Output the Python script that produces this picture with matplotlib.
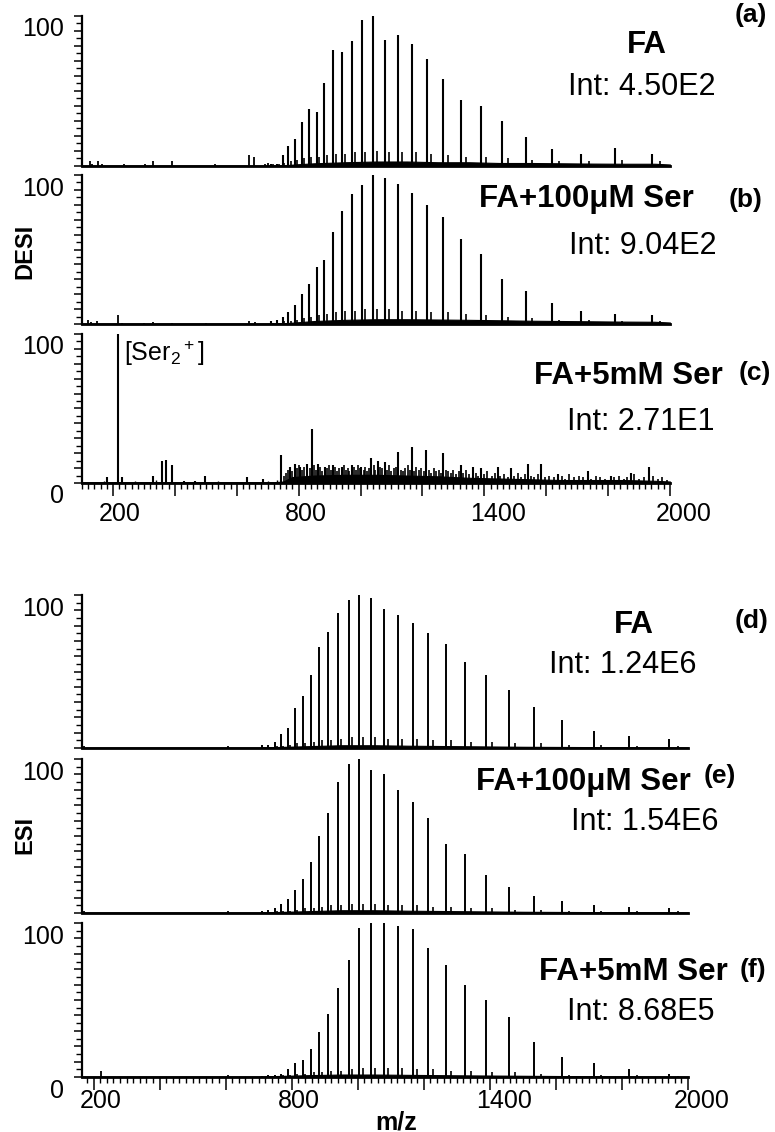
import matplotlib
matplotlib.use('Agg')
import matplotlib.pyplot as plt
from matplotlib.ticker import MultipleLocator, FuncFormatter
from matplotlib.transforms import ScaledTranslation

plt.rcParams['font.family'] = ['Liberation Sans', 'DejaVu Sans']
plt.rcParams['mathtext.fontset'] = 'custom'
plt.rcParams['mathtext.rm'] = 'Liberation Sans'
plt.rcParams['mathtext.it'] = 'Liberation Sans:italic'
plt.rcParams['mathtext.bf'] = 'Liberation Sans:bold'

# ---------------- data ----------------
# charge-state envelope (z = 41 ... 15)
series_mz = [711, 729, 748, 767, 788, 810, 833, 858, 883, 911, 940, 972, 1005,
             1041, 1080, 1121, 1166, 1214, 1267, 1325, 1388, 1457, 1534, 1619,
             1714, 1821, 1942]
adduct_mz = [716, 735, 754, 774, 795, 817, 841, 866, 892, 920, 950, 982, 1016,
             1052, 1092, 1134, 1180, 1229, 1283, 1342, 1406, 1476, 1554, 1640,
             1737, 1846, 1969]

# DESI
a_int = [1, 1, 7, 13, 18, 29, 38, 36, 55, 77, 76, 83, 97, 100, 84, 87, 81, 71,
         58, 44, 40, 30, 19, 11, 8, 12, 8]
a_sat = [1, 1, 2, 3, 4, 5, 6, 6, 7, 8, 8, 9, 9, 10, 9, 9, 9, 8, 7, 6, 6, 5, 4,
         3, 3, 4, 3]
a_extra_mz = [125, 133, 153, 164, 235, 303, 331, 392, 530, 641, 657, 690, 700]
a_extra = [3, 1.5, 3, 1, 1, 1, 3.5, 3, 1, 7, 6, 1.5, 2]
a_floor_mz = [100, 700, 760, 800, 850, 950, 1050, 1150, 1250, 1350, 1450, 1550,
              1650, 1750, 1850, 1950, 2000]
a_floor = [0.3, 0.3, 0.6, 1.2, 1.8, 2.5, 3, 3, 2.5, 2.5, 2, 2, 1.8, 1.6, 1.5, 1.5, 1]

b_int = [2, 3, 5, 8, 13, 20, 27, 38, 43, 62, 76, 87, 93, 100, 98, 94, 88, 80,
         72, 57, 47, 30, 22, 14, 9, 7, 6]
b_sat = [1, 1, 2, 2, 3, 4, 5, 6, 7, 8, 9, 9, 10, 10, 10, 9, 9, 8, 8, 7, 6, 5,
         4, 3, 3, 2, 2]
b_extra_mz = [120, 128, 150, 216, 230, 300, 330, 392, 500, 640, 660]
b_extra = [3, 1.5, 2, 6, 1, 1, 1.5, 1, 1, 2, 1.5]
b_floor_mz = [100, 700, 760, 800, 850, 950, 1050, 1150, 1250, 1350, 1450, 1550,
              1650, 1750, 1850, 1950, 2000]
b_floor = [0.3, 0.3, 0.6, 1.2, 2, 2.8, 3.2, 3.2, 3, 2.8, 2.5, 2.2, 2, 1.8, 1.6, 1.5, 1]

c_peak_mz = [181, 216, 229, 331, 358, 373, 390, 430, 465, 496, 632, 686, 743,
             772, 788, 806, 826, 844, 863, 885, 912, 939, 971, 1003, 1035, 1057,
             1078, 1121, 1165, 1213, 1267, 1324, 1363, 1390, 1444, 1487, 1541,
             1584, 1638, 1735, 1810, 1874, 1933]
c_peak = [4, 100, 4, 4.5, 15, 15.5, 12, 1.5, 1.5, 5, 4, 3, 19, 11, 13, 11, 13,
          36, 13, 11, 12, 11, 12, 11, 17, 15, 14, 21, 24, 22, 20, 12, 11, 10,
          11, 10, 13, 13, 6, 8, 5, 7, 11]
c_grass_mz = [752, 760, 766, 778, 795, 800, 812, 818, 836, 850, 856, 870, 876,
              892, 898, 904, 918, 925, 932, 946, 952, 958, 964, 978, 985, 992,
              998, 1010, 1016, 1022, 1028, 1042, 1048, 1064, 1070, 1085, 1092,
              1100, 1108, 1114, 1130, 1138, 1145, 1152, 1160, 1172, 1180, 1188,
              1196, 1205, 1220, 1228, 1236, 1244, 1252, 1260, 1275, 1283, 1292,
              1300, 1310, 1318, 1332, 1340, 1350, 1372, 1380, 1400, 1410, 1425,
              1435, 1452, 1462, 1475, 1497, 1510, 1520, 1530, 1550, 1562, 1575,
              1595, 1610, 1625, 1650, 1662, 1675, 1690, 1705, 1720, 1745, 1760,
              1775, 1790, 1820, 1835, 1850, 1862, 1885, 1900, 1915, 1945, 1960,
              1975, 1990]
c_grass = [5, 7, 9, 8, 10, 12, 9, 11, 10, 12, 9, 11, 8, 10, 12, 9, 11, 8, 10,
           12, 9, 10, 8, 11, 9, 12, 10, 9, 11, 8, 10, 12, 9, 11, 10, 9, 12, 8,
           10, 11, 9, 8, 10, 12, 9, 8, 11, 9, 10, 8, 9, 7, 10, 8, 9, 7, 9, 8,
           7, 9, 6, 8, 7, 9, 6, 7, 5, 6, 8, 5, 7, 5, 6, 4, 5, 7, 4, 6, 5, 4, 6,
           4, 5, 4, 5, 3, 6, 4, 5, 4, 3, 5, 4, 3, 4, 5, 3, 4, 6, 3, 4, 5, 3,
           4, 2]
c_floor_mz = [100, 720, 750, 780, 850, 950, 1050, 1150, 1250, 1350, 1450, 1550,
              1650, 1750, 1850, 1950, 2000]
c_floor = [0.5, 0.5, 1, 4, 5, 5.5, 5.5, 5, 4.5, 3.5, 3, 2.5, 2, 2, 2, 1.5, 1]
c_low_mz = [150, 170, 250, 270, 290, 310, 340, 420, 540, 560, 580, 600, 640,
            660, 700, 730]
c_low = [1, 1.5, 1, 1.5, 1, 1, 2, 1, 1.5, 1, 1, 1, 1, 1, 1.5, 2]

# ESI
d_int = [2, 2, 4, 9, 13, 26, 34, 48, 66, 76, 88, 97, 100, 98, 91, 87, 82, 75,
         68, 56, 48, 38, 27, 18, 11, 8, 6]
d_sat = [0.5, 0.5, 1, 1.5, 2, 3, 3, 4, 5, 5, 6, 7, 7, 7, 6, 6, 6, 5, 5, 4, 4,
         3, 3, 2, 2, 1, 1]
d_extra_mz = [170, 607]
d_extra = [1.5, 1.5]
d_floor_mz = [165, 700, 750, 850, 950, 1050, 1150, 1300, 1500, 1700, 2000]
d_floor = [0.3, 0.3, 0.6, 1.2, 1.8, 1.8, 1.5, 1.2, 0.8, 0.6, 0.4]

e_int = [1, 2, 3, 6, 9, 15, 22, 33, 50, 65, 85, 97, 100, 93, 90, 80, 72, 62,
         45, 38, 25, 17, 11, 8, 5, 4, 3]
e_sat = [0.5, 0.5, 1, 1, 1.5, 2, 3, 3, 4, 5, 5, 6, 6, 6, 5, 5, 5, 4, 4, 3, 3,
         2, 2, 1.5, 1, 1, 1]
e_extra_mz = [170, 607]
e_extra = [1, 1.5]
e_floor_mz = d_floor_mz
e_floor = d_floor

f_int = [0.5, 1, 1.5, 2, 5, 9, 11, 18, 29, 41, 58, 76, 97, 100, 100, 98, 96,
         84, 73, 60, 50, 39, 23, 13, 9, 5, 2]
f_sat = [0.3, 0.5, 0.5, 1, 1.5, 2, 2, 3, 3, 4, 4, 5, 6, 6, 6, 6, 5, 5, 4, 4,
         3, 3, 2, 1.5, 1, 1, 0.5]
f_extra_mz = [224, 607]
f_extra = [4, 1]
f_floor_mz = d_floor_mz
f_floor = [0.3, 0.3, 0.6, 1.2, 1.6, 1.6, 1.4, 1.1, 0.8, 0.5, 0.3]

desi_xlim = (100, 2000)
esi_xlim = (165, 2000)

# ---------------- figure ----------------
W, H = 775, 1132
fig = plt.figure(figsize=(W / 100, H / 100), dpi=100)


def add_ax(left, right, top, bottom):
    return fig.add_axes([left / W, 1 - bottom / H, (right - left) / W, (bottom - top) / H])


def style(ax, xlim, show_x, show_zero, xpad):
    ax.set_xlim(*xlim)
    ax.set_ylim(0, 100)
    for s in ('top', 'right'):
        ax.spines[s].set_visible(False)
    ax.spines['left'].set_linewidth(1.6)
    ax.spines['bottom'].set_linewidth(2.0)
    ax.yaxis.set_major_locator(MultipleLocator(10))
    ax.yaxis.set_minor_locator(MultipleLocator(5))
    ax.yaxis.set_major_formatter(FuncFormatter(
        lambda v, p: '100' if abs(v - 100) < 1e-6 else ('0' if (show_zero and abs(v) < 1e-6) else '')))
    ax.tick_params(axis='y', which='major', length=6, width=1.1, direction='out',
                   labelsize=18, pad=7)
    ax.tick_params(axis='y', which='minor', length=4, width=1.0, direction='out')
    for lab in ax.get_yticklabels():
        lab.set_transform(lab.get_transform() + ScaledTranslation(0, -11 / 100, fig.dpi_scale_trans))
    if show_x:
        ax.xaxis.set_major_locator(MultipleLocator(200))
        ax.xaxis.set_minor_locator(MultipleLocator(20))
        ax.xaxis.set_major_formatter(FuncFormatter(
            lambda v, p: str(int(round(v))) if int(round(v)) in (200, 800, 1400, 2000) else ''))
        ax.tick_params(axis='x', which='major', length=9, width=1.1, direction='out',
                       labelsize=18, pad=xpad)
        ax.tick_params(axis='x', which='minor', length=4, width=1.0, direction='out')
        for lab in ax.get_xticklabels():
            lab.set_horizontalalignment('left')
            lab.set_transform(lab.get_transform() + ScaledTranslation(-14 / 100, 0, fig.dpi_scale_trans))
    else:
        ax.tick_params(axis='x', which='both', bottom=False, labelbottom=False)


def draw(ax, main_mz, main_int, sat_mz, sat_int, floor_mz, floor_int,
         extra_mz=None, extra_int=None, lw=1.5):
    ax.fill_between(floor_mz, 0, floor_int, color='black', lw=0.8)
    ax.vlines(sat_mz, 0, sat_int, color='black', lw=1.2)
    if extra_mz is not None:
        ax.vlines(extra_mz, 0, extra_int, color='black', lw=1.3)
    ax.vlines(main_mz, 0, main_int, color='black', lw=lw)


# DESI group
ax_a = add_ax(82, 670, 16, 166)
ax_b = add_ax(82, 670, 175, 324)
ax_c = add_ax(82, 670, 334, 483)
# ESI group
ax_d = add_ax(82, 688, 595, 748)
ax_e = add_ax(82, 688, 759, 913)
ax_f = add_ax(82, 688, 923, 1077)

draw(ax_a, series_mz, a_int, adduct_mz, a_sat, a_floor_mz, a_floor, a_extra_mz, a_extra)
draw(ax_b, series_mz, b_int, adduct_mz, b_sat, b_floor_mz, b_floor, b_extra_mz, b_extra)
ax_c.fill_between(c_floor_mz, 0, c_floor, color='black', lw=0.8)
ax_c.vlines(c_grass_mz, 0, c_grass, color='black', lw=1.2)
ax_c.vlines(c_low_mz, 0, c_low, color='black', lw=1.0)
ax_c.vlines(c_peak_mz, 0, c_peak, color='black', lw=1.5)
draw(ax_d, series_mz, d_int, adduct_mz, d_sat, d_floor_mz, d_floor, d_extra_mz, d_extra, lw=1.4)
draw(ax_e, series_mz, e_int, adduct_mz, e_sat, e_floor_mz, e_floor, e_extra_mz, e_extra, lw=1.4)
draw(ax_f, series_mz, f_int, adduct_mz, f_sat, f_floor_mz, f_floor, f_extra_mz, f_extra, lw=1.4)

style(ax_a, desi_xlim, False, False, 0)
style(ax_b, desi_xlim, False, False, 0)
style(ax_c, desi_xlim, True, True, 5)
style(ax_d, esi_xlim, False, False, 0)
style(ax_e, esi_xlim, False, False, 0)
style(ax_f, esi_xlim, True, True, 0)

ax_c.text(236, 97, r'[Ser$_2{}^+$]', fontsize=18, ha='left', va='top')


def ftext(x, y, s, **kw):
    fig.text(x / W, 1 - y / H, s, **kw)


# panel texts (pixel positions, baseline)
title_kw = dict(fontsize=22.5, fontweight='bold', ha='center', va='baseline')
int_kw = dict(fontsize=22, ha='center', va='baseline')
tag_kw = dict(fontsize=19, fontweight='bold', ha='center', va='baseline')

ftext(647, 53, 'FA', **title_kw)
ftext(642, 95, 'Int: 4.50E2', **int_kw)
ftext(751, 22, '(a)', **tag_kw)

ftext(586, 207, 'FA+100\u03bcM Ser', **title_kw)
ftext(643, 254, 'Int: 9.04E2', **int_kw)
ftext(746, 207, '(b)', **tag_kw)

ftext(628, 384, 'FA+5mM Ser', **title_kw)
ftext(641, 430, 'Int: 2.71E1', **int_kw)
ftext(755, 380, '(c)', **tag_kw)

ftext(634, 633, 'FA', **title_kw)
ftext(623, 673, 'Int: 1.24E6', **int_kw)
ftext(752, 628, '(d)', **tag_kw)

ftext(583, 790, 'FA+100\u03bcM Ser', **title_kw)
ftext(645, 830, 'Int: 1.54E6', **int_kw)
ftext(720, 783, '(e)', **tag_kw)

ftext(633, 980, 'FA+5mM Ser', **title_kw)
ftext(641, 1020, 'Int: 8.68E5', **int_kw)
ftext(753, 977, '(f)', **tag_kw)

ftext(25, 251, 'DESI', fontsize=17, fontweight='bold', rotation=90, ha='center', va='center')
ftext(25, 835, 'ESI', fontsize=17, fontweight='bold', rotation=90, ha='center', va='center')
ftext(396, 1122, 'm/z', fontsize=18, fontweight='bold', ha='center', va='center')

fig.savefig('out.png', dpi=100)
